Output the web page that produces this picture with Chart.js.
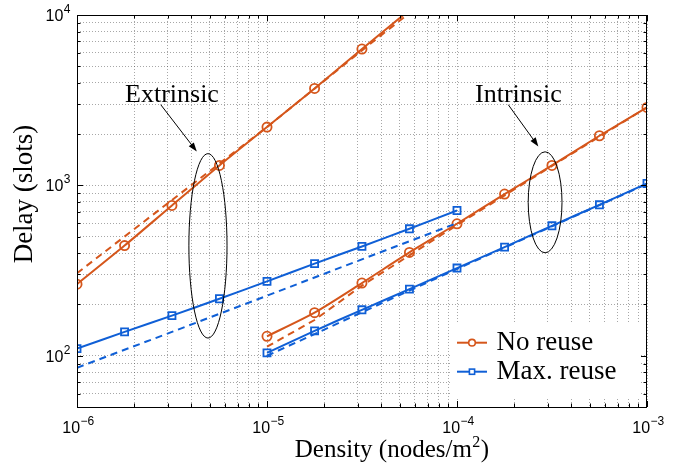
<!DOCTYPE html>
<html><head><meta charset="utf-8">
<script src="https://cdn.jsdelivr.net/npm/chart.js@4/dist/chart.umd.min.js"></script>
<style>html,body{margin:0;padding:0;background:#fff;overflow:hidden}canvas{display:block}</style>
</head><body>
<canvas id="c" width="693" height="468"></canvas>
<script>
// ---- data ----
const extX = [1e-6, 1.78e-6, 3.16e-6, 5.62e-6, 1e-5, 1.78e-5, 3.16e-5, 5.62e-5, 1e-4];
const extNoReuse = [263, 443, 762, 1309, 2198, 3706, 6310, 10700];
const extNoReuseApproxX = [1e-6, 3.16e-6, 1e-5, 3.16e-5, 1e-4];
const extNoReuseApprox = [305, 820, 2200, 6200, 17000];
const extMaxReuse = [110, 138, 172, 216, 273, 347, 438, 556, 712];
const extMaxReuseApproxX = [1e-6, 3.16e-6, 1e-5, 3.16e-5, 1e-4];
const extMaxReuseApprox = [85, 138, 225, 368, 600];

const intX = [1e-5, 1.78e-5, 3.16e-5, 5.62e-5, 1e-4, 1.78e-4, 3.16e-4, 5.62e-4, 1e-3];
const intNoReuse = [130, 179, 267, 404, 595, 889, 1309, 1955, 2868];
const intNoReuseApproxX = [1e-5, 1.78e-5, 3.16e-5, 1e-4, 3.16e-4, 1e-3];
const intNoReuseApprox = [113, 162, 258, 585, 1300, 2870];
const intMaxReuse = [104, 140, 186, 246, 327, 434, 579, 769, 1026];
const intMaxReuseApproxX = [1e-5, 1.78e-5, 3.16e-5, 1e-4, 3.16e-4, 1e-3];
const intMaxReuseApprox = [100, 134, 180, 323, 575, 1020];

const xTickExps = [-6, -5, -4, -3];
const yTickExps = [2, 3, 4];
const xRange = [1e-6, 1e-3];
const yRange = [50, 1e4];

const seriesNames = ['No reuse', 'Max. reuse'];
const annotationLabels = ['Extrinsic', 'Intrinsic'];
// annotation anchors in data units
const labelAnchors = [[1.79e-6, 3076], [1.245e-4, 3076]];
const arrowFrom = [[2.76e-6, 2974], [1.862e-4, 2974]];
const arrowTo = [[4.27e-6, 1581], [2.68e-4, 1692]];
const ellipseBoxes = [[3.88e-6, 6.16e-6, 127, 1535], [2.37e-4, 3.57e-4, 402, 1574]];

// ---- styles ----
const ORANGE = '#D5561B';
const BLUE = '#0F5FD6';
const pts = (xs, ys) => ys.map((y, i) => ({x: xs[i], y}));

function solid(label, xs, ys, color, style) {
  return {label, data: pts(xs, ys), showLine: true, borderColor: color, backgroundColor: color,
    borderWidth: 2, tension: 0.25, pointStyle: style, pointRadius: style === 'rect' ? 5 : 4.6,
    pointBorderWidth: 1.8, pointBackgroundColor: 'rgba(0,0,0,0)', pointBorderColor: color, clip: 0};
}
function dashed(label, xs, ys, color) {
  return {label, data: pts(xs, ys), showLine: true, borderColor: color, borderWidth: 2,
    borderDash: [7, 5], tension: 0, pointRadius: 0, clip: 0};
}

function logTicks(min, max) {
  const t = [];
  for (let e = Math.floor(Math.log10(min)); e <= Math.ceil(Math.log10(max)); e++) {
    for (let m = 1; m <= 9; m++) {
      const v = m * Math.pow(10, e);
      if (v >= min * 0.9999 && v <= max * 1.0001) t.push({value: v});
    }
  }
  return t;
}

const GRID = 'rgba(60,60,60,0.45)';

function drawPow(ctx, exp, x, y, mode) {
  const base = '10', ex = (exp < 0 ? '\u2212' : '') + Math.abs(exp);
  ctx.font = '16px "Liberation Sans", Arial, sans-serif';
  const wb = ctx.measureText(base).width;
  ctx.font = '12px "Liberation Sans", Arial, sans-serif';
  const we = ctx.measureText(ex).width;
  let x0, bl;
  if (mode === 'y') { x0 = x - (wb + we); bl = y + 6; }
  else { x0 = x - (wb + we) / 2 + 1; bl = y; }
  ctx.fillStyle = '#000';
  ctx.textAlign = 'left';
  ctx.textBaseline = 'alphabetic';
  ctx.font = '16px "Liberation Sans", Arial, sans-serif';
  ctx.fillText(base, x0, bl);
  ctx.font = '12px "Liberation Sans", Arial, sans-serif';
  ctx.fillText(ex, x0 + wb + 0.5, bl - 8);
}

const decor = {
  id: 'decor',
  afterDatasetsDraw(chart) {
    const {ctx, chartArea: a, scales: {x, y}} = chart;
    const P = (d) => [x.getPixelForValue(d[0]), y.getPixelForValue(d[1])];
    ctx.save();
    // ellipses
    ctx.strokeStyle = '#000'; ctx.lineWidth = 1;
    ellipseBoxes.forEach(b => {
      const l = x.getPixelForValue(b[0]), r = x.getPixelForValue(b[1]);
      const bt = y.getPixelForValue(b[2]), tp = y.getPixelForValue(b[3]);
      ctx.beginPath();
      ctx.ellipse((l + r) / 2, (bt + tp) / 2, (r - l) / 2, (bt - tp) / 2, 0, 0, Math.PI * 2);
      ctx.stroke();
    });
    // arrows
    arrowFrom.forEach((f, i) => {
      const [x1, y1] = P(f), [x2, y2] = P(arrowTo[i]);
      const ang = Math.atan2(y2 - y1, x2 - x1);
      const L = 9, W = 3.2;
      ctx.beginPath(); ctx.moveTo(x1, y1);
      ctx.lineTo(x2 - L * 0.8 * Math.cos(ang), y2 - L * 0.8 * Math.sin(ang)); ctx.stroke();
      ctx.beginPath();
      ctx.moveTo(x2, y2);
      ctx.lineTo(x2 - L * Math.cos(ang) + W * Math.sin(ang), y2 - L * Math.sin(ang) - W * Math.cos(ang));
      ctx.lineTo(x2 - L * Math.cos(ang) - W * Math.sin(ang), y2 - L * Math.sin(ang) + W * Math.cos(ang));
      ctx.closePath(); ctx.fillStyle = '#000'; ctx.fill();
    });
    // annotation labels
    ctx.font = '26px "Liberation Serif", "Times New Roman", serif';
    ctx.fillStyle = '#000'; ctx.textAlign = 'left'; ctx.textBaseline = 'alphabetic';
    annotationLabels.forEach((t, i) => { const [px, py] = P(labelAnchors[i]); ctx.fillText(t, px, py); });

    // legend
    const lx = a.right - 195, ly = a.bottom - 84;
    ctx.fillStyle = '#fff';
    ctx.fillRect(lx, ly, 189, 76);
    const ds = chart.data.datasets;
    [[0, 19.7], [2, 48.7]].forEach(([di, dy], k) => {
      const d = ds[di];
      const cy = ly + dy;
      ctx.strokeStyle = d.borderColor; ctx.lineWidth = 2;
      ctx.beginPath(); ctx.moveTo(lx + 5, cy); ctx.lineTo(lx + 35, cy); ctx.stroke();
      ctx.lineWidth = 1.6;
      const mx = lx + 20;
      ctx.fillStyle = '#fff';
      if (d.pointStyle === 'rect') { ctx.fillRect(mx - 2.6, cy - 2.6, 5.2, 5.2); ctx.strokeRect(mx - 2.6, cy - 2.6, 5.2, 5.2); }
      else { ctx.beginPath(); ctx.arc(mx, cy, 3.3, 0, Math.PI * 2); ctx.fill(); ctx.stroke(); }
      ctx.fillStyle = '#000';
      ctx.font = '27px "Liberation Serif", "Times New Roman", serif';
      ctx.fillText(seriesNames[k], lx + 44.5, cy + 7.5);
    });

    // frame
    ctx.strokeStyle = '#000'; ctx.lineWidth = 1;
    ctx.strokeRect(a.left + 0.5, a.top + 0.5, a.right - a.left - 1, a.bottom - a.top);
    // inner ticks
    x.ticks.forEach(t => {
      const px = Math.round(x.getPixelForValue(t.value)) + 0.5;
      const len = Math.abs(Math.log10(t.value) - Math.round(Math.log10(t.value))) < 1e-6 ? 6 : 3.5;
      ctx.beginPath(); ctx.moveTo(px, a.bottom); ctx.lineTo(px, a.bottom - len);
      ctx.moveTo(px, a.top); ctx.lineTo(px, a.top + len); ctx.stroke();
    });
    y.ticks.forEach(t => {
      const py = Math.round(y.getPixelForValue(t.value)) + 0.5;
      const len = Math.abs(Math.log10(t.value) - Math.round(Math.log10(t.value))) < 1e-6 ? 6 : 3.5;
      ctx.beginPath(); ctx.moveTo(a.left, py); ctx.lineTo(a.left + len, py);
      ctx.moveTo(a.right, py); ctx.lineTo(a.right - len, py); ctx.stroke();
    });
    // tick labels
    xTickExps.forEach(e => drawPow(ctx, e, x.getPixelForValue(Math.pow(10, e)), a.bottom + 26, 'x'));
    yTickExps.forEach(e => drawPow(ctx, e, a.left - 7, y.getPixelForValue(Math.pow(10, e)), 'y'));

    // axis titles
    ctx.fillStyle = '#000';
    ctx.font = '25px "Liberation Serif", "Times New Roman", serif';
    const t1 = 'Density (nodes/m', t2 = '2', t3 = ')';
    const w1 = ctx.measureText(t1).width, w3 = ctx.measureText(t3).width;
    ctx.font = '16px "Liberation Serif", "Times New Roman", serif';
    const w2 = ctx.measureText(t2).width;
    const tot = w1 + w2 + w3 + 1;
    let sx = 392 - tot / 2;
    const bl = a.bottom + 50;
    ctx.font = '25px "Liberation Serif", "Times New Roman", serif';
    ctx.fillText(t1, sx, bl);
    ctx.font = '16px "Liberation Serif", "Times New Roman", serif';
    ctx.fillText(t2, sx + w1 + 0.5, bl - 10);
    ctx.font = '25px "Liberation Serif", "Times New Roman", serif';
    ctx.fillText(t3, sx + w1 + w2 + 1, bl);

    ctx.save();
    ctx.translate(32, 194);
    ctx.rotate(-Math.PI / 2);
    ctx.font = '27px "Liberation Serif", "Times New Roman", serif';
    ctx.textAlign = 'center';
    ctx.fillText('Delay (slots)', 0, 0);
    ctx.restore();
    ctx.restore();
  }
};

const axisCommon = {
  type: 'logarithmic',
  ticks: {display: false, autoSkip: false},
  grid: {color: GRID, lineWidth: 1, drawTicks: false},
  border: {display: false, dash: [1, 2]},
  title: {display: false}
};

new Chart(document.getElementById('c'), {
  type: 'scatter',
  data: {
    datasets: [
      solid('Extrinsic, no reuse', extX, extNoReuse, ORANGE, 'circle'),
      dashed('Extrinsic, no reuse (approx.)', extNoReuseApproxX, extNoReuseApprox, ORANGE),
      solid('Extrinsic, max. reuse', extX, extMaxReuse, BLUE, 'rect'),
      dashed('Extrinsic, max. reuse (approx.)', extMaxReuseApproxX, extMaxReuseApprox, BLUE),
      solid('Intrinsic, no reuse', intX, intNoReuse, ORANGE, 'circle'),
      dashed('Intrinsic, no reuse (approx.)', intNoReuseApproxX, intNoReuseApprox, ORANGE),
      solid('Intrinsic, max. reuse', intX, intMaxReuse, BLUE, 'rect'),
      dashed('Intrinsic, max. reuse (approx.)', intMaxReuseApproxX, intMaxReuseApprox, BLUE)
    ]
  },
  options: {
    responsive: false, animation: false, devicePixelRatio: 1,
    layout: {padding: {left: 77, right: 46, top: 15, bottom: 61}},
    plugins: {legend: {display: false}, tooltip: {enabled: false}},
    scales: {
      x: Object.assign({}, axisCommon, {min: xRange[0], max: xRange[1],
        afterBuildTicks: s => { s.ticks = logTicks(xRange[0], xRange[1]); }}),
      y: Object.assign({}, axisCommon, {min: yRange[0], max: yRange[1],
        afterBuildTicks: s => { s.ticks = logTicks(yRange[0], yRange[1]); }})
    }
  },
  plugins: [decor]
});
</script>
</body></html>
